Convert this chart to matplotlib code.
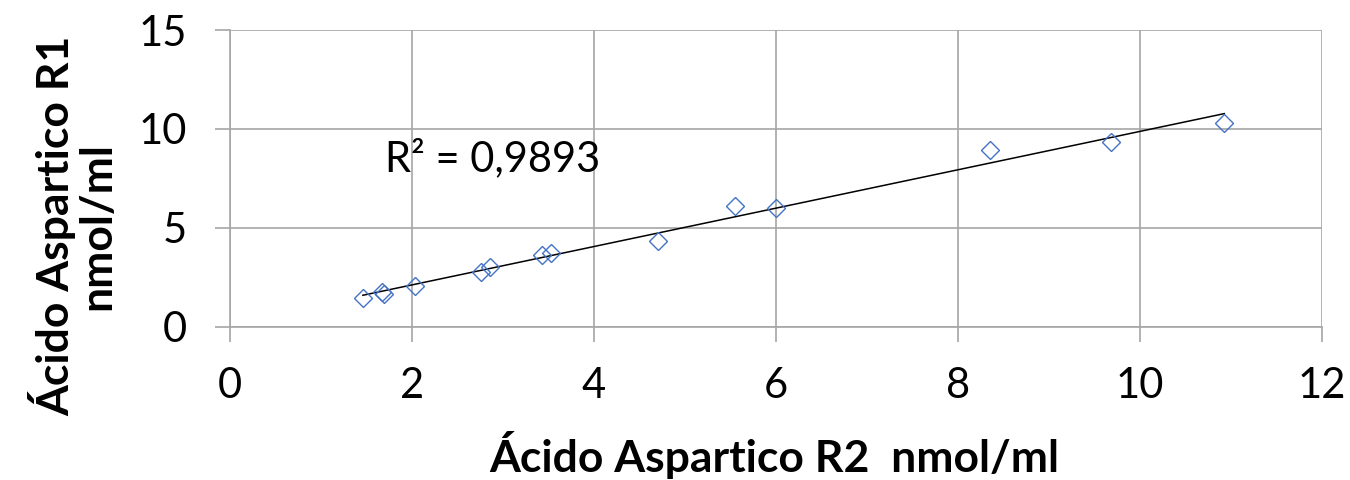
import numpy as np
import matplotlib.pyplot as plt

# Ácido Aspartico, réplica 2 (x) vs réplica 1 (y), nmol/ml
r2_vals = [1.46, 1.67, 1.69, 2.03, 2.76, 2.86, 3.43, 3.53, 4.70, 5.55, 6.00, 8.35, 9.68, 10.93]
r1_vals = [1.45, 1.78, 1.67, 2.07, 2.76, 3.01, 3.64, 3.72, 4.36, 6.09, 6.03, 8.96, 9.36, 10.30]
x_ticks = [0, 2, 4, 6, 8, 10, 12]
y_ticks = [0, 5, 10, 15]
r2_label = 'R² = 0,9893'

plt.rcParams['font.family'] = ['Lato', 'DejaVu Sans']

fig = plt.figure(figsize=(13.5, 4.8), dpi=100)
ax = fig.add_axes([0.1704, 0.319, 0.8086, 0.6185])

grid_col = '#a6a6a6'
x = np.array(r2_vals)
y = np.array(r1_vals)

# linear trendline
slope, intercept = np.polyfit(x, y, 1)
xt = np.array([x.min(), x.max()])
ax.plot(xt, slope * xt + intercept, color='black', lw=1.1, zorder=3)

ax.plot(x, y, linestyle='none', marker='D', ms=9, mfc='none',
        mec='#4472c4', mew=1.0, zorder=4)

ax.text(1.7, 8.5, r2_label, fontsize=30, va='center', ha='left')

ax.set_xlim(0, 12)
ax.set_ylim(0, 15)
ax.set_xticks(x_ticks)
ax.set_yticks(y_ticks)
ax.grid(True, color=grid_col, lw=1.2)
ax.set_axisbelow(True)
for s in ['top', 'right']:
    ax.spines[s].set_visible(False)
for s in ['left', 'bottom']:
    ax.spines[s].set_color(grid_col)
    ax.spines[s].set_linewidth(1.2)
ax.tick_params(axis='both', direction='out', length=11, width=1.2, color=grid_col,
               labelsize=30)
ax.tick_params(axis='x', pad=18)
ax.tick_params(axis='y', pad=20)

# axis titles placed by hand (y title is not centred on the axes)
fig.text(0.5733, 0.052, 'Ácido Aspartico R2  nmol/ml', fontsize=32, fontweight='bold',
         ha='center', va='center')
fig.text(0.054, 0.529, 'Ácido Aspartico R1\nnmol/ml', fontsize=32, fontweight='bold',
         ha='center', va='center', rotation=90, multialignment='center', linespacing=1.05)

fig.savefig('out.png', dpi=100)
